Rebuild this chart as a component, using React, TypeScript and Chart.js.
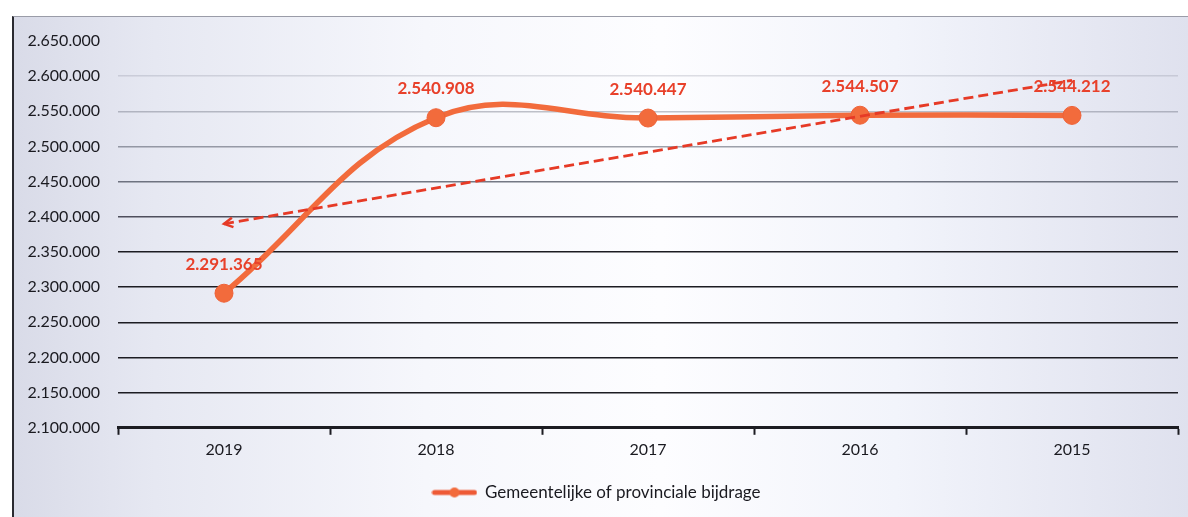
import React, { useEffect, useRef } from "react";
import { Chart, registerables } from "chart.js";

Chart.register(...registerables);

const categories = ["2019", "2018", "2017", "2016", "2015"];
const seriesLabel = "Gemeentelijke of provinciale bijdrage";
const seriesValues = [2291365, 2540908, 2540447, 2544507, 2544212];
const pointLabels = ["2.291.365", "2.540.908", "2.540.447", "2.544.507", "2.544.212"];
// trend line end values
const trendValues = [2390000, null, null, null, 2594000];
const yMin = 2100000;
const yMax = 2650000;
const yStep = 50000;

const LINE_COLOR = "#F26B3C";
const LABEL_COLOR = "#E8402A";
const TREND_COLOR = "#E63A26";
const FONT = "Lato, 'Open Sans', sans-serif";
const TEXT = "#1a1a20";

function fmt(v: number): string {
  return Math.round(v).toString().replace(/\B(?=(\d{3})+(?!\d))/g, ".");
}

function legendIcon(): HTMLCanvasElement {
  const c = document.createElement("canvas");
  c.width = 46;
  c.height = 12;
  const ctx = c.getContext("2d")!;
  ctx.strokeStyle = "#EE5A36";
  ctx.lineWidth = 5;
  ctx.lineCap = "round";
  ctx.beginPath();
  ctx.moveTo(3, 6);
  ctx.lineTo(43, 6);
  ctx.stroke();
  ctx.fillStyle = LINE_COLOR;
  ctx.beginPath();
  ctx.arc(23, 6, 5, 0, Math.PI * 2);
  ctx.fill();
  return c;
}

const labelPlugin = {
  id: "pointLabels",
  afterDatasetsDraw(chart: any) {
    const meta = chart.getDatasetMeta(0);
    const ctx = chart.ctx;
    ctx.save();
    ctx.font = `bold 17px ${FONT}`;
    ctx.fillStyle = LABEL_COLOR;
    ctx.textAlign = "center";
    ctx.textBaseline = "middle";
    meta.data.forEach((pt: any, i: number) => {
      ctx.fillText(pointLabels[i], pt.x, pt.y - 29);
    });
    // arrow head at the left end of the trend line
    const tmeta = chart.getDatasetMeta(1);
    const p0 = tmeta.data[0];
    const p1 = tmeta.data[4];
    if (p0 && p1) {
      const ang = Math.atan2(p0.y - p1.y, p0.x - p1.x);
      const len = 10;
      ctx.strokeStyle = TREND_COLOR;
      ctx.lineWidth = 2.5;
      ctx.beginPath();
      ctx.moveTo(p0.x + len * Math.cos(ang + Math.PI - 0.5), p0.y + len * Math.sin(ang + Math.PI - 0.5));
      ctx.lineTo(p0.x, p0.y);
      ctx.lineTo(p0.x + len * Math.cos(ang + Math.PI + 0.5), p0.y + len * Math.sin(ang + Math.PI + 0.5));
      ctx.stroke();
    }
    ctx.restore();
  },
};

function gridColor(ctx: any): string {
  const v = ctx.tick ? ctx.tick.value : 0;
  if (v >= 2650000) return "rgba(0,0,0,0)";
  if (v >= 2600000) return "rgba(110,115,130,0.22)";
  if (v >= 2550000) return "rgba(100,105,120,0.40)";
  if (v >= 2500000) return "rgba(80,85,100,0.55)";
  if (v >= 2450000) return "rgba(60,65,80,0.70)";
  if (v >= 2400000) return "rgba(40,40,55,0.80)";
  return "#1c1c22";
}

export default function App() {
  const canvasRef = useRef<HTMLCanvasElement | null>(null);

  useEffect(() => {
    document.body.style.margin = "0";
    const icon = legendIcon();
    const chart = new Chart(canvasRef.current!, {
      type: "line",
      data: {
        labels: categories,
        datasets: [
          {
            label: seriesLabel,
            data: seriesValues,
            borderColor: LINE_COLOR,
            backgroundColor: LINE_COLOR,
            borderWidth: 5.5,
            pointRadius: 9,
            pointBackgroundColor: LINE_COLOR,
            pointBorderColor: "#EE6238",
            pointBorderWidth: 1,
            tension: 0.4,
            order: 1,
          },
          {
            label: "trend",
            data: trendValues as any,
            borderColor: TREND_COLOR,
            borderWidth: 2.8,
            borderDash: [10, 5],
            pointRadius: 0,
            tension: 0,
            spanGaps: true,
            order: 0,
          },
        ],
      },
      options: {
        animation: false,
        responsive: false,
        layout: { padding: { left: 14, right: 9, top: 41, bottom: 6 } },
        plugins: {
          tooltip: { enabled: false },
          legend: {
            position: "bottom",
            labels: {
              font: { family: FONT, size: 17 },
              color: TEXT,
              usePointStyle: true,
              pointStyleWidth: 44,
              boxHeight: 12,
              padding: 12,
              generateLabels: () => [
                {
                  text: seriesLabel,
                  datasetIndex: 0,
                  pointStyle: icon,
                  fillStyle: LINE_COLOR,
                  strokeStyle: LINE_COLOR,
                  lineWidth: 0,
                  fontColor: TEXT,
                },
              ],
            },
          },
        },
        scales: {
          x: {
            offset: true,
            afterFit: (scale: any) => {
              scale.height += 8;
            },
            grid: {
              display: true,
              offset: true,
              drawOnChartArea: false,
              drawTicks: true,
              tickLength: 7,
              tickWidth: 2,
              color: "#1c1c22",
            },
            border: { display: true, color: "#1c1c22", width: 3 },
            ticks: {
              font: { family: FONT, size: 16 },
              color: TEXT,
              padding: 5,
            },
          },
          y: {
            min: yMin,
            max: yMax,
            afterFit: (scale: any) => {
              scale.width = 104;
            },
            grid: {
              color: gridColor,
              lineWidth: 1.5,
              drawTicks: false,
            },
            border: { display: false },
            ticks: {
              stepSize: yStep,
              padding: 18,
              font: { family: FONT, size: 16 },
              color: TEXT,
              callback: (v: any) => fmt(Number(v)),
            },
          },
        },
      },
      plugins: [labelPlugin],
    });
    return () => chart.destroy();
  }, []);

  return (
    <div
      style={{
        position: "relative",
        width: 1188,
        height: 517,
        background: "#ffffff",
        overflow: "hidden",
      }}
    >
      <div
        style={{
          position: "absolute",
          left: 12,
          top: 16,
          width: 1176,
          height: 501,
          borderLeft: "2px solid #2a2a30",
          borderTop: "1px solid #9a9ca8",
          background:
            "linear-gradient(90deg, #d9dbe8 0%, #e6e8f2 12%, #f6f7fc 35%, #fdfdff 55%, #f2f4fb 75%, #dfe1ee 100%)",
        }}
      />
      <canvas
        ref={canvasRef}
        width={1188}
        height={517}
        style={{ position: "absolute", left: 0, top: 0 }}
      />
    </div>
  );
}
